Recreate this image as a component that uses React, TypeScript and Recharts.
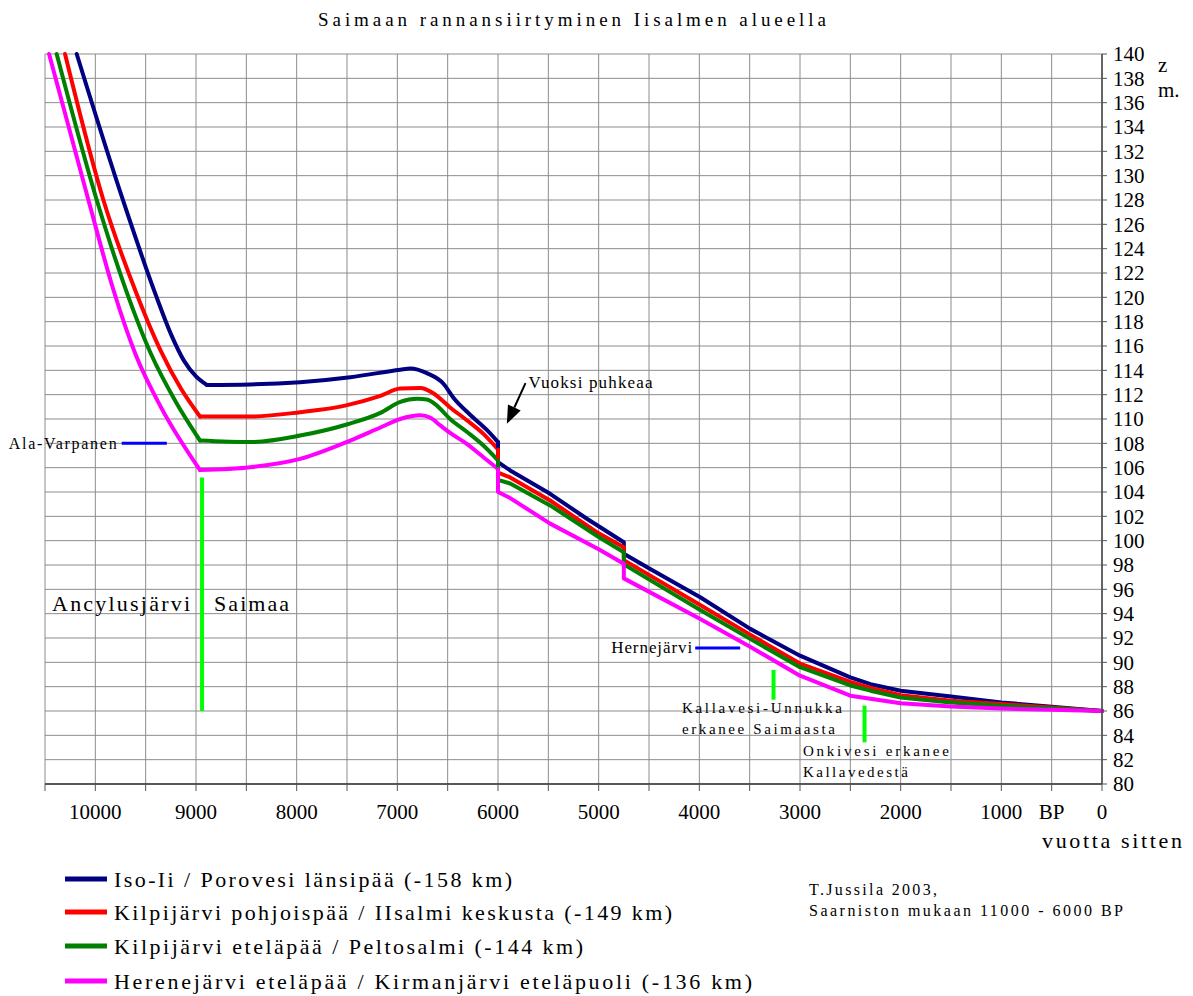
import React from 'react';
import { LineChart, Line, XAxis, YAxis, CartesianGrid, ReferenceLine, ReferenceDot } from 'recharts';

const FONT = '"Liberation Serif", "Times New Roman", serif';

// [years BP, altitude m] — each shoreline in three stretches:
// Ancylus descent, Saimaa transgression plateau, and the time after the Vuoksi outburst
const isoIiDescent: number[][] = [
  [10185, 140], [9722, 127.9], [9400, 120.2], [9250, 117.0], [9120, 114.8], [9000, 113.5], [8893, 112.8],
];
const isoIiPlateau: number[][] = [
  [8893, 112.8], [8463, 112.84], [7966, 113.03], [7467, 113.44], [6970, 114.05], [6871, 114.15], [6707, 113.77],
  [6542, 112.9], [6443, 111.75], [6277, 110.35], [6111, 109.1], [6000, 108.1],
];
const isoIiLate: number[][] = [
  [6000, 108.1], [6000, 106.45], [5879, 105.77], [5482, 103.85], [5117, 101.8], [4750, 99.87], [4750, 98.92],
  [4488, 97.68], [3991, 95.35], [3494, 92.75], [3000, 90.55], [2500, 88.77], [2300, 88.2], [2000, 87.67],
  [1500, 87.2], [1000, 86.7], [500, 86.36], [0, 86],
];
const kilpiPohjoisDescent: number[][] = [
  [10301, 140], [9920, 128.0], [9600, 120.5], [9350, 115.6], [9150, 112.5], [8960, 110.2],
];
const kilpiPohjoisPlateau: number[][] = [
  [8960, 110.2], [8463, 110.2], [7966, 110.56], [7519, 111.1], [7168, 111.9], [6970, 112.5], [6771, 112.55], [6640, 112.1],
  [6476, 110.95], [6310, 109.9], [6145, 108.78], [6000, 107.5],
];
const kilpiPohjoisLate: number[][] = [
  [6000, 107.5], [6000, 105.6], [5879, 105.2], [5482, 103.3], [5000, 100.6], [4750, 99.45], [4750, 98.4],
  [4000, 94.75], [3500, 92.3], [3000, 89.9], [2500, 88.4], [2300, 87.9], [2000, 87.3], [1500, 86.85],
  [1000, 86.57], [500, 86.28], [0, 86],
];
const kilpiEtelaDescent: number[][] = [
  [10384, 140], [9986, 128.0], [9700, 120.7], [9450, 115.4], [9200, 111.4], [8960, 108.23],
];
const kilpiEtelaPlateau: number[][] = [
  [8960, 108.23], [8463, 108.1], [7966, 108.64], [7502, 109.55], [7168, 110.5], [6970, 111.4], [6804, 111.66], [6707, 111.6],
  [6607, 111.1], [6476, 110.0], [6310, 108.95], [6145, 107.82], [6000, 106.6],
];
const kilpiEtelaLate: number[][] = [
  [6000, 106.6], [6000, 105.0], [5879, 104.7], [5482, 102.9], [5000, 100.3], [4750, 99.05], [4750, 98.05],
  [4000, 94.35], [3500, 91.95], [3000, 89.6], [2500, 88.1], [2300, 87.67], [2000, 87.1], [1500, 86.7],
  [1000, 86.44], [500, 86.22], [0, 86],
];
const herenejarviDescent: number[][] = [
  [10460, 140], [10069, 128.0], [9820, 120.6], [9600, 115.3], [9350, 111.0], [8960, 105.8],
];
const herenejarviPlateau: number[][] = [
  [8960, 105.8], [8463, 106.03], [7966, 106.72], [7467, 108.23], [7168, 109.3], [6970, 110.0], [6771, 110.3], [6671, 110.1],
  [6573, 109.47], [6476, 108.85], [6310, 107.96], [6145, 106.86], [6000, 105.9],
];
const herenejarviLate: number[][] = [
  [6000, 105.9], [6000, 104.0], [5879, 103.5], [5482, 101.4], [5000, 99.3], [4750, 98.1], [4750, 96.9],
  [4000, 93.6], [3500, 91.3], [3000, 88.9], [2500, 87.26], [2300, 87.0], [2000, 86.63], [1500, 86.36],
  [1000, 86.2], [500, 86.1], [0, 86],
];

const xTicks = [0, 500, 1000, 1500, 2000, 2500, 3000, 3500, 4000, 4500, 5000, 5500, 6000, 6500, 7000, 7500, 8000, 8500, 9000, 9500, 10000, 10500];
const yTicks = [80, 82, 84, 86, 88, 90, 92, 94, 96, 98, 100, 102, 104, 106, 108, 110, 112, 114, 116, 118, 120, 122, 124, 126, 128, 130, 132, 134, 136, 138, 140];

const seriesNames = [
  'Iso-Ii / Porovesi länsipää (-158 km)',
  'Kilpijärvi pohjoispää / IIsalmi keskusta (-149 km)',
  'Kilpijärvi eteläpää / Peltosalmi (-144 km)',
  'Herenejärvi eteläpää / Kirmanjärvi eteläpuoli (-136 km)',
];
const seriesColors = ['#000080', '#FF0000', '#008000', '#FF00FF'];
const seriesParts = [
  [isoIiDescent, isoIiPlateau, isoIiLate],
  [kilpiPohjoisDescent, kilpiPohjoisPlateau, kilpiPohjoisLate],
  [kilpiEtelaDescent, kilpiEtelaPlateau, kilpiEtelaLate],
  [herenejarviDescent, herenejarviPlateau, herenejarviLate],
];
const partCurves = ['monotoneX', 'monotoneX', 'linear'];
const legendTextWidths = [398, 558, 469, 638];
const legendRowsY = [879, 912, 946, 981];

// blue marker lines (lake levels) and green event lines
const blueMarks = [
  { x1: 9738, x2: 9290, z: 108.0 },
  { x1: 4041, x2: 3594, z: 91.18 },
];
const greenMarks = [
  { x: 8940, z1: 105.2, z2: 86 },
  { x: 3263, z1: 89.38, z2: 86.93 },
  { x: 2359, z1: 86.44, z2: 83.42 },
];
const arrowSeg = [{ x: 5727, y: 112.95 }, { x: 5912, y: 109.6 }];

const annotations = [
  { x: 9738, z: 108.0, dx: -5, dy: 0, anchor: 'end', size: 16, len: 108, text: 'Ala-Varpanen' },
  { x: 8940, z: 94.8, dx: -12, dy: 0, anchor: 'end', size: 22, len: 138, text: 'Ancylusjärvi' },
  { x: 8940, z: 94.8, dx: 12, dy: 0, anchor: 'start', size: 22, len: 75, text: 'Saimaa' },
  { x: 5727, z: 112.95, dx: 3, dy: -1, anchor: 'start', size: 17, len: 124, text: 'Vuoksi puhkeaa' },
  { x: 4041, z: 91.18, dx: -3, dy: 0, anchor: 'end', size: 17, len: 81, text: 'Hernejärvi' },
  { x: 3263, z: 86.93, dx: -91.6, dy: 8.3, anchor: 'start', size: 15, len: 160, text: 'Kallavesi-Unnukka' },
  { x: 3263, z: 86.93, dx: -91.6, dy: 29.3, anchor: 'start', size: 15, len: 153, text: 'erkanee Saimaasta' },
  { x: 2359, z: 83.42, dx: -61.6, dy: 8.3, anchor: 'start', size: 15, len: 146, text: 'Onkivesi erkanee' },
  { x: 2359, z: 83.42, dx: -61.6, dy: 30, anchor: 'start', size: 15, len: 105, text: 'Kallavedestä' },
];

const toPts = (rows: number[][]) => rows.map(([year, z]) => ({ year, z }));

const xFmt = (v: number) => {
  if (v === 500) return 'BP';
  if (v % 1000 === 0 && v <= 10000) return String(v);
  return '';
};

const ArrowShape = (p: any) => {
  const { x1, y1, x2, y2 } = p;
  if ([x1, y1, x2, y2].some((v) => typeof v !== 'number' || isNaN(v))) return null;
  const ang = Math.atan2(y2 - y1, x2 - x1);
  const L = 18;
  const W = 7;
  const bx = x2 - L * Math.cos(ang);
  const by = y2 - L * Math.sin(ang);
  const nx = -Math.sin(ang);
  const ny = Math.cos(ang);
  return (
    <g>
      <line x1={x1} y1={y1} x2={bx} y2={by} stroke="#000" strokeWidth={2} />
      <polygon points={`${x2},${y2} ${bx + nx * W},${by + ny * W} ${bx - nx * W},${by - ny * W}`} fill="#000" />
    </g>
  );
};

const makeTextShape = (a: any) => (p: any) => (
  <text
    x={p.cx + a.dx}
    y={p.cy + a.dy}
    textAnchor={a.anchor}
    dominantBaseline="central"
    fontFamily={FONT}
    fontSize={a.size}
    fill="#000"
    textLength={a.len}
    lengthAdjust="spacing"
  >
    {a.text}
  </text>
);

export default function App() {
  return (
    <div style={{ position: 'absolute', left: 0, top: 0, width: 1193, height: 996, background: '#fff' }}>
      <LineChart width={1193} height={996} margin={{ top: 54, right: 0, left: 45, bottom: 153 }}>
        <CartesianGrid stroke="#8c8c8c" strokeWidth={1} />
        <XAxis
          type="number"
          dataKey="year"
          domain={[0, 10500]}
          reversed
          ticks={xTicks}
          interval={0}
          tickFormatter={xFmt}
          tickSize={7}
          tickMargin={13}
          height={59}
          axisLine={{ stroke: '#333', strokeWidth: 1.5 }}
          tickLine={{ stroke: '#555' }}
          tick={{ fontSize: 21, fill: '#000', fontFamily: FONT }}
        />
        <YAxis
          orientation="right"
          type="number"
          domain={[80, 140]}
          ticks={yTicks}
          interval={0}
          width={91}
          tickSize={5}
          tickMargin={6}
          axisLine={{ stroke: '#444', strokeWidth: 1.5 }}
          tickLine={{ stroke: '#555' }}
          tick={{ fontSize: 21, fill: '#000', fontFamily: FONT }}
        />
        {greenMarks.map((g, i) => (
          <ReferenceLine
            key={'g' + i}
            segment={[{ x: g.x, y: g.z1 }, { x: g.x, y: g.z2 }]}
            stroke="#00FF00"
            strokeWidth={4}
          />
        ))}
        {blueMarks.map((b, i) => (
          <ReferenceLine
            key={'b' + i}
            segment={[{ x: b.x1, y: b.z }, { x: b.x2, y: b.z }]}
            stroke="#0000FF"
            strokeWidth={3}
          />
        ))}
        <ReferenceLine segment={arrowSeg} shape={ArrowShape} />
        {[0, 1, 2].map((part) =>
          seriesNames.map((n, i) => (
            <Line
              key={n + '-' + part}
              data={toPts(seriesParts[i][part])}
              dataKey="z"
              name={n}
              type={partCurves[part] as any}
              stroke={seriesColors[i]}
              strokeWidth={4}
              dot={false}
              activeDot={false}
              isAnimationActive={false}
              strokeLinejoin="round"
              strokeLinecap="round"
            />
          ))
        )}
        {annotations.map((a, i) => (
          <ReferenceDot key={'a' + i} x={a.x} y={a.z} r={1} shape={makeTextShape(a)} />
        ))}
      </LineChart>
      <svg width={1193} height={996} style={{ position: 'absolute', left: 0, top: 0, pointerEvents: 'none' }}>
        <g fontFamily={FONT} fill="#000">
          <text x={572} y={19} textAnchor="middle" dominantBaseline="central" fontSize={19} textLength={508} lengthAdjust="spacing">
            Saimaan rannansiirtyminen Iisalmen alueella
          </text>
          <text x={1158} y={65} dominantBaseline="central" fontSize={21}>z</text>
          <text x={1158} y={90} dominantBaseline="central" fontSize={21}>m.</text>
          <text x={1042} y={840} dominantBaseline="central" fontSize={22} textLength={140} lengthAdjust="spacing">vuotta sitten</text>
          <text x={809} y={889} dominantBaseline="central" fontSize={16} textLength={128} lengthAdjust="spacing">T.Jussila 2003,</text>
          <text x={809} y={910} dominantBaseline="central" fontSize={16} textLength={314} lengthAdjust="spacing">Saarniston mukaan 11000 - 6000 BP</text>
          {seriesNames.map((n, i) => (
            <g key={n}>
              <line x1={65} x2={107} y1={legendRowsY[i]} y2={legendRowsY[i]} stroke={seriesColors[i]} strokeWidth={5} />
              <text x={114} y={legendRowsY[i]} dominantBaseline="central" fontSize={22} textLength={legendTextWidths[i]} lengthAdjust="spacing">
                {n}
              </text>
            </g>
          ))}
        </g>
      </svg>
    </div>
  );
}
